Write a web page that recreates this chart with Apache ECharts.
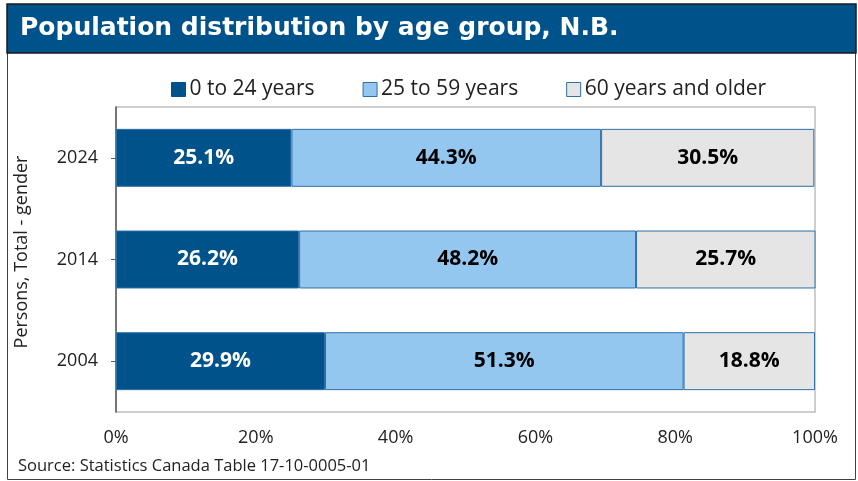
<!DOCTYPE html>
<html>
<head>
<meta charset="utf-8">
<script src="https://cdn.jsdelivr.net/npm/echarts@6/dist/echarts.min.js"></script>
<style>
html,body{margin:0;padding:0;background:#fff;}
#c{width:858px;height:481px;}
</style>
</head>
<body>
<div id="c"></div>
<script>
const categories = ['2004', '2014', '2024'];
const seriesNames = ['0 to 24 years', '25 to 59 years', '60 years and older'];
const young = [29.9, 26.2, 25.1];
const middle = [51.3, 48.2, 44.3];
const older = [18.8, 25.7, 30.5];
const xTicks = [0, 20, 40, 60, 80, 100];

const chart = echarts.init(document.getElementById('c'), null, {renderer: 'canvas'});
const font = '"Open Sans", "Noto Sans", sans-serif';
const colors = ['#00528A', '#94C7EF', '#E5E5E5'];
const labelColors = ['#FFFFFF', '#000000', '#000000'];
const dataSets = [young, middle, older];

chart.setOption({
  animation: false,
  textStyle: {fontFamily: font},
  graphic: [
    {type: 'rect', shape: {x: 7.5, y: 4.5, width: 848, height: 475}, style: {fill: '#fff', stroke: '#404040', lineWidth: 1}, z: -10},
    {type: 'rect', shape: {x: 7, y: 4, width: 849, height: 49}, style: {fill: '#00528A', stroke: '#1a1a1a', lineWidth: 1.5}, z: -5},
    {type: 'text', left: 20, top: 16, style: {text: 'Population distribution by age group, N.B.', fill: '#fff', font: 'bold 25px "DejaVu Sans", sans-serif'}},
    {type: 'text', left: 18, top: 458, style: {text: 'Source: Statistics Canada Table 17-10-0005-01', fill: '#222', font: '16.5px ' + font}},
    {type: 'text', x: 22, y: 252, rotation: Math.PI / 2, style: {text: 'Persons, Total - gender', fill: '#222', font: '18px ' + font, align: 'center', verticalAlign: 'middle'}}
  ],
  legend: {
    top: 74,
    left: 166,
    itemWidth: 14,
    itemHeight: 14,
    itemGap: 48,
    textStyle: {fontSize: 21, color: '#222', fontFamily: font, padding: [0, 0, 0, -1]},
    data: seriesNames.map((n, i) => ({name: n, icon: 'rect', itemStyle: {borderColor: i === 0 ? '#00528A' : '#2F6FA5', borderWidth: 1}}))
  },
  grid: {left: 116, right: 43, top: 107, bottom: 69, show: true, borderColor: '#BFBFBF', borderWidth: 1.5},
  xAxis: {
    type: 'value', min: 0, max: 100, interval: 20,
    axisLabel: {formatter: v => xTicks.includes(v) ? v + '%' : '', fontSize: 18, color: '#222', margin: 17, fontFamily: font},
    splitLine: {show: false}, axisLine: {show: false}, axisTick: {show: false}
  },
  yAxis: {
    type: 'category', data: categories,
    axisLine: {show: true, lineStyle: {color: '#595959', width: 1.5}},
    axisTick: {show: true, alignWithLabel: true, length: 5, lineStyle: {color: '#595959'}},
    axisLabel: {fontSize: 18, color: '#222', margin: 18, fontFamily: font}
  },
  series: dataSets.map((d, i) => ({
    name: seriesNames[i], type: 'bar', stack: 'total', data: d,
    barWidth: '57%',
    itemStyle: {color: colors[i], borderColor: '#2F6FA5', borderWidth: 1},
    label: {show: true, position: 'inside', formatter: p => p.value.toFixed(1) + '%', fontSize: 21, fontWeight: 'bold', color: labelColors[i], fontFamily: font}
  }))
});
</script>
</body>
</html>
